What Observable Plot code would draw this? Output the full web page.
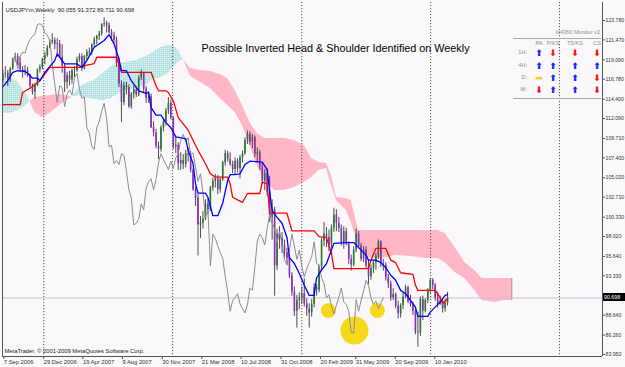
<!DOCTYPE html>
<html><head><meta charset="utf-8">
<script src="https://cdn.jsdelivr.net/npm/d3@7"></script>
<script src="https://cdn.jsdelivr.net/npm/@observablehq/plot@0.6"></script>
<style>
html,body{margin:0;padding:0;background:#fbf8fb;}
#wrap{position:relative;width:625px;height:367px;overflow:hidden;font-family:"Liberation Sans",Arial,sans-serif;}
#wrap svg{display:block}
.mon{position:absolute;font-size:5.6px;color:#8a8a8a;white-space:nowrap;line-height:1}
.arr{position:absolute;font-family:"DejaVu Sans";font-size:9px;font-weight:bold;line-height:1;transform:translate(-50%,-50%)}
.pl{position:absolute;background:#aaa;height:1px}
#px{position:absolute;left:603px;width:22px;height:8px;background:#000;color:#fff;font-size:5.3px;line-height:8px;padding-left:1px;box-sizing:border-box}
</style></head><body><div id="wrap"></div>
<script>
const symbolLabel = "USDJPYm,Weekly";
const lastBar = {open: 90.055, high: 91.372, low: 89.711, close: 90.698};
const chartNote = "Possible Inverted Head & Shoulder Identified on Weekly";
const copyright = "MetaTrader, © 2001-2009 MetaQuotes Software Corp.";
const firstWeek = "2006-09-07";

const open = [116.6,117.4,117.5,116.8,118.0,119.1,119.5,118.7,117.9,117.7,
117.8,117.3,115.9,115.2,116.0,117.9,118.2,119.1,119.6,120.5,
121.2,121.4,120.9,121.0,119.4,118.4,116.4,117.2,116.7,117.8,
117.8,119.1,119.5,118.0,119.5,120.0,119.9,120.9,121.5,121.9,
122.2,123.3,123.4,123.2,122.3,122.0,121.4,118.6,116.2,114.0,
116.0,115.8,113.5,115.0,115.5,114.9,116.9,117.5,115.6,114.5,
114.7,111.0,110.4,108.8,108.4,111.0,111.7,113.0,113.9,112.1,
108.7,108.9,106.7,107.1,106.6,107.9,107.7,105.9,103.6,102.6,
99.4,99.6,100.1,101.9,101.2,103.8,104.6,104.9,103.6,104.8,
106.8,107.9,107.2,106.6,106.0,107.0,106.1,107.4,107.9,109.5,
110.2,109.3,109.8,107.8,108.0,106.3,104.6,105.5,103.2,100.3,
101.2,94.5,98.3,97.8,96.9,96.1,95.4,93.3,91.4,89.1,
90.4,90.7,91.2,90.0,89.4,88.9,89.9,91.9,91.6,94.4,
97.5,98.3,97.9,97.0,99.0,100.6,99.6,99.0,97.3,98.6,
97.1,95.3,94.6,96.4,98.3,96.9,95.3,96.4,94.5,93.2,
94.2,94.9,95.6,97.4,94.8,94.6,93.1,92.4,90.7,91.1,
89.7,88.8,89.8,90.8,91.9,90.2,89.9,89.1,86.6,86.5,
90.5,89.1,90.4,91.5,92.8,92.2,90.7,89.9,90.3,89.4,
90.055];
const high = [117.9,118.3,117.8,118.2,119.3,119.9,119.8,119.4,118.3,118.4,
118.2,117.4,116.2,116.3,118.0,118.5,119.3,120.0,120.8,121.5,
122.2,121.7,121.6,121.4,120.9,118.6,117.6,117.7,118.0,118.3,
119.4,119.8,119.8,119.6,120.3,120.5,121.0,121.8,122.0,122.5,
123.4,124.1,123.7,123.5,122.7,122.4,121.8,119.3,116.6,116.4,
116.4,116.1,115.2,116.0,115.9,117.2,117.9,117.6,115.9,115.3,
115.0,111.7,110.8,109.3,111.2,112.1,113.3,114.6,114.3,112.3,
110.0,109.2,108.0,107.8,108.3,108.6,108.2,106.1,103.9,103.0,
100.4,101.0,102.4,102.5,104.0,105.0,105.4,105.3,105.0,107.0,
108.3,108.2,108.0,107.0,107.4,107.3,107.7,108.2,109.8,110.6,
110.5,110.2,110.0,108.6,108.3,106.8,106.0,106.1,105.2,102.4,
101.5,98.9,99.2,98.5,97.6,96.6,95.8,93.7,92.0,91.0,
91.3,92.0,93.0,90.6,90.0,90.5,92.4,92.3,94.6,97.8,
99.7,99.1,98.8,99.4,101.4,101.2,100.3,99.4,99.2,99.0,
97.4,95.8,96.8,98.9,98.6,97.2,96.8,96.8,95.1,94.6,
95.2,96.0,97.6,97.5,95.3,94.9,93.5,92.7,91.8,91.3,
90.3,90.0,91.3,92.2,92.1,91.0,90.2,89.4,89.0,90.8,
90.9,90.6,91.8,93.0,93.0,92.4,91.4,90.9,90.5,90.5,
91.372];
const low = [116.3,116.9,115.9,116.4,117.8,118.8,118.4,117.6,116.9,117.2,
117.0,115.7,114.9,114.4,115.9,117.5,117.9,118.5,119.4,120.4,
120.9,120.3,119.4,119.3,117.5,115.2,115.6,116.0,116.2,117.0,
117.6,118.8,117.7,117.9,119.0,119.5,119.6,120.5,120.9,121.4,
121.9,123.0,122.3,122.2,121.3,121.0,118.2,115.8,111.6,113.6,
114.9,113.3,113.2,114.4,114.6,114.7,116.6,115.2,113.9,113.9,
110.9,109.9,108.5,107.2,108.1,110.5,111.2,112.6,111.9,108.4,
107.9,105.9,105.9,106.0,106.2,106.9,105.6,103.4,101.6,95.7,
97.8,98.9,99.9,100.6,101.0,103.4,103.8,103.0,103.2,104.6,
106.4,106.9,106.4,105.5,105.3,105.6,104.9,106.8,107.7,109.0,
108.9,108.5,107.4,106.9,105.9,104.2,103.5,102.8,99.7,97.6,
90.9,94.0,96.5,96.0,95.3,94.6,93.0,90.9,88.5,87.1,
89.3,89.9,89.6,88.5,87.1,88.4,89.5,90.9,91.3,94.0,
96.8,96.7,96.2,96.6,98.5,98.6,98.5,96.9,96.5,96.9,
94.7,93.9,94.4,96.1,96.6,95.0,94.9,94.2,92.3,92.8,
93.6,94.0,95.3,94.3,93.9,92.7,91.8,90.3,90.4,89.4,
88.2,88.3,89.3,90.6,90.0,89.6,88.6,86.3,84.8,86.1,
88.0,88.9,90.0,91.2,91.7,90.3,89.5,89.8,88.9,89.0,
89.711];
const close = [117.4,117.5,116.8,118.0,119.1,119.5,118.7,117.9,117.7,117.8,
117.3,115.9,115.2,116.0,117.9,118.2,119.1,119.6,120.5,121.2,
121.4,120.9,121.0,119.4,118.4,116.4,117.2,116.7,117.8,117.8,
119.1,119.5,118.0,119.5,120.0,119.9,120.9,121.5,121.9,122.2,
123.3,123.4,123.2,122.3,122.0,121.4,118.6,116.2,114.0,116.0,
115.8,113.5,115.0,115.5,114.9,116.9,117.5,115.6,114.5,114.7,
111.0,110.4,108.8,108.4,111.0,111.7,113.0,113.9,112.1,108.7,
108.9,106.7,107.1,106.6,107.9,107.7,105.9,103.6,102.6,99.4,
99.6,100.1,101.9,101.2,103.8,104.6,104.9,103.6,104.8,106.8,
107.9,107.2,106.6,106.0,107.0,106.1,107.4,107.9,109.5,110.2,
109.3,109.8,107.8,108.0,106.3,104.6,105.5,103.2,100.3,101.2,
94.5,98.3,97.8,96.9,96.1,95.4,93.3,91.4,89.1,90.4,
90.7,91.2,90.0,89.4,88.9,89.9,91.9,91.6,94.4,97.5,
98.3,97.9,97.0,99.0,100.6,99.6,99.0,97.3,98.6,97.1,
95.3,94.6,96.4,98.3,96.9,95.3,96.4,94.5,93.2,94.2,
94.9,95.6,97.4,94.8,94.6,93.1,92.4,90.7,91.1,89.7,
88.8,89.8,90.8,91.9,90.2,89.9,89.1,86.6,86.5,90.5,
89.1,90.4,91.5,92.8,92.2,90.7,89.9,90.3,89.4,90.05,
90.698];

// Tenkan-sen (blue): bar index / value
const tenkanIdx = [0,2,4,6,9,10,12,14,15,17,21,22,23,25,30,32,34,37,41,43,45,47,48,50,52,55,58,59,60,62,64,66,68,70,74,75,77,78,79,82,83,85,87,89,91,92,94,96,98,100,105,107,108,109,111,113,115,116,118,120,122,124,126,127,129,131,133,134,139,142,145,147,148,151,153,155,157,159,161,163,165,167,168,172,173,175,177,179,180];
const tenkanVal = [115.9,116.6,117.6,117.8,117.7,117.5,116.9,116.9,116.6,117.6,119.0,119.8,119.4,118.6,118.6,118.2,119.0,120.6,121.4,122.1,121.0,119.2,117.8,117.8,116.6,115.4,115.1,115.2,113.4,112.5,112.5,111.6,111.0,109.9,109.7,108.3,106.7,104.3,103.2,103.2,102.7,100.5,100.5,102.0,104.7,105.4,105.4,105.5,106.6,107.0,106.9,106.0,103.4,101.1,100.3,99.6,97.9,95.5,94.8,93.6,92.2,91.0,91.0,93.1,94.0,94.8,96.4,97.2,97.3,97.3,96.4,95.8,95.2,95.2,94.9,94.3,93.4,92.8,91.6,91.2,90.4,89.6,88.5,88.5,89.0,89.6,90.2,91.0,91.1];

// Kijun-sen (red)
const kijunIdx = [0,7,8,11,15,19,31,33,37,38,46,48,60,62,63,66,67,69,71,75,77,79,82,84,86,91,92,93,97,99,104,105,107,108,115,117,126,128,131,133,134,148,149,151,155,157,159,161,166,167,168,175,177,178,180];
const kijunVal = [113.76,113.76,115.2,115.7,116.6,118.2,118.2,118.4,118.65,119.4,119.4,117.6,117.6,116.0,115.4,115.4,115.2,114.2,112.2,110.7,109.5,108.3,106.7,105.5,105.1,105.1,104.3,102.7,102.1,103.15,103.15,104.5,104.3,100.8,100.8,98.7,98.7,98.0,97.9,96.0,94.2,94.2,95.2,96.6,96.6,95.2,94.9,93.7,93.5,92.2,91.6,91.6,90.75,90.0,90.6];

// Kumo (Senkou span A / B), plotted 26 bars ahead
const cloudIdx = [0,3,6,9,11,13,16,19,22,25,28,31,33,37,41,44,47,50,54,58,60,64,67,69,71,73,76,80,84,88,91,94,97,100,103,106,110,114,118,122,125,128,131,133,135,139,141,144,147,153,159,165,171,176,179,183,187,191,194,199,203,206];
const spanA = [116.86,116.86,116.51,115.19,114.12,112.81,112.21,112.69,113.41,114.12,114.60,115.79,116.15,116.62,117.58,118.29,118.53,118.77,119.01,119.49,119.84,120.56,120.80,120.80,120.20,119.13,117.10,116.39,115.67,114.48,113.64,112.81,111.26,108.87,106.49,104.70,103.51,103.51,103.86,104.46,105.06,105.89,106.13,104.10,102.31,101.12,99.69,96.95,95.52,95.40,95.76,95.64,95.40,95.40,94.92,93.73,93.01,91.58,90.39,90.15,90.39,90.39];
const spanB = [112.69,112.69,113.05,113.52,114.12,114.60,114.72,114.84,114.95,114.84,114.60,114.84,114.60,114.36,114.24,114.48,115.07,115.43,115.67,116.03,116.62,116.98,117.46,118.17,118.77,119.13,118.06,117.82,117.70,117.34,116.86,115.43,113.64,111.61,110.30,109.71,109.71,109.71,109.47,108.87,107.32,106.85,106.73,105.30,102.67,102.55,102.31,98.74,98.74,98.74,98.74,98.74,98.74,98.74,98.38,96.71,94.92,93.97,93.01,93.01,93.01,93.01];
const chikouShift = 26;
const chikouFirstBar = 30;

// yellow highlights on the Chikou span (left shoulder, head, right shoulder)
const annotIdx = [131.8, 142.3, 151.6];
const annotVal = [89.2, 86.8, 89.2];
const annotRole = ["shoulder", "head", "shoulder"];

const xTickLabels = ["7 Sep 2006","29 Dec 2006","19 Apr 2007","9 Aug 2007","30 Nov 2007","21 Mar 2008","10 Jul 2008","31 Oct 2008","20 Feb 2009","31 May 2009","20 Sep 2009","10 Jan 2010"];
const yTicks = [123.780,121.470,119.090,116.780,114.400,112.090,109.710,107.400,105.020,102.710,100.330,98.020,95.640,93.330,88.640,86.260,83.950];
const separatorYears = [2007, 2008, 2009, 2010, 2011];

const monTitle = "ic4360 Monitor v2";
const monRows = ["1H:", "4H:", "D:", "W:"];
const monCols = ["PA", "P/KS", "TS/KS", "CS"];
const monSignals = [["up","down","down","down"],["up","up","up","up"],["flat","up","up","down"],["down","up","up","down"]];

// ---------- build ----------
const weekMs = 7 * 864e5;
const t0 = Date.parse(firstWeek + "T00:00:00Z");
const weekDate = i => new Date(t0 + i * weekMs);
const bars = close.map((c, i) => ({date: weekDate(i), open: open[i], high: high[i], low: low[i], close: c}));
const chikou = bars.filter((d, i) => i >= chikouFirstBar).map((d, k) => ({date: weekDate(k + chikouFirstBar - chikouShift), close: d.close}));
const tenkan = tenkanIdx.map((j, k) => ({date: weekDate(j), v: tenkanVal[k]}));
const kijun = kijunIdx.map((j, k) => ({date: weekDate(j), v: kijunVal[k]}));

const BLUE_KUMO = "url(#kumoBlue)", PINK_KUMO = "#ffb7c5";
const segs = [[]];
cloudIdx.forEach((j, k) => {
  const row = {date: weekDate(j), a: spanA[k], b: spanB[k]};
  segs[segs.length - 1].push(row);
  if (spanA[k] === spanB[k] && k > 0 && k < cloudIdx.length - 1) segs.push([row]);
});
const cloudRows = [];
segs.forEach((s, si) => {
  const ref = s.find(r => r.a !== r.b);
  const color = ref && ref.a > ref.b ? BLUE_KUMO : PINK_KUMO;
  s.forEach(r => cloudRows.push({...r, seg: si, color}));
});
const cloudEnd = [cloudRows[cloudRows.length - 1]];
const annots = annotIdx.map((j, k) => ({date: weekDate(j), v: annotVal[k], role: annotRole[k]}));
const xTickDates = xTickLabels.map(s => d3.utcParse("%d %b %Y")(s));
const labelOf = new Map(xTickDates.map((d, i) => [+d, xTickLabels[i]]));
const separators = separatorYears.map(y => new Date(Date.UTC(y, 0, 1)));
const xDomain = [new Date(Date.UTC(2006, 8, 6)), new Date(Date.UTC(2011, 4, 3))];
const yDomain = [83.71, 125.93];
const header = `${symbolLabel}  ${lastBar.open.toFixed(3)} ${lastBar.high.toFixed(3)} ${lastBar.low.toFixed(3)} ${lastBar.close.toFixed(3)}`;

const chart = Plot.plot({
  width: 625, height: 367,
  marginLeft: 2, marginRight: 23, marginTop: 2, marginBottom: 11,
  style: {background: "#fbf8fb", fontFamily: "Liberation Sans, Arial, sans-serif", fontSize: "6px", color: "#333"},
  x: {type: "utc", domain: xDomain},
  y: {domain: yDomain},
  color: {type: "identity"},
  marks: [
    Plot.areaY(cloudRows, {x: "date", y1: "a", y2: "b", z: "seg", fill: "color", curve: "linear"}),
    Plot.ruleX(cloudEnd, {x: "date", y1: "a", y2: "b", stroke: "#8f8f8f", strokeWidth: 1}),
    Plot.ruleY([lastBar.close], {stroke: "#cbc3cb", strokeWidth: 1}),
    Plot.ruleX(separators, {stroke: "#444", strokeWidth: 0.9, strokeDasharray: "1.2,1.8"}),
    Plot.dot(annots, {filter: d => d.role === "shoulder", x: "date", y: "v", r: 7.5, fill: "#f7d91c", stroke: "none"}),
    Plot.dot(annots, {filter: d => d.role === "head", x: "date", y: "v", r: 14, fill: "#f7d91c", stroke: "none"}),
    Plot.ruleX(bars, {x: "date", y1: "low", y2: "high", stroke: "#3a3a3a", strokeWidth: 0.9}),
    Plot.ruleX(bars, {x: "date", y1: "open", y2: "close", stroke: d => d.close >= d.open ? "#23782e" : "#9127bd", strokeWidth: 1.6}),
    Plot.line(chikou, {x: "date", y: "close", stroke: "#8c8c8c", strokeWidth: 1}),
    Plot.line(kijun, {x: "date", y: "v", stroke: "#ff0000", strokeWidth: 1.3}),
    Plot.line(tenkan, {x: "date", y: "v", stroke: "#0000ff", strokeWidth: 1.3}),
    Plot.ruleX([xDomain[0]], {stroke: "#555"}),
    Plot.ruleX([xDomain[1]], {stroke: "#555"}),
    Plot.ruleY([yDomain[0]], {stroke: "#555"}),
    Plot.axisY(yTicks, {anchor: "right", tickSize: 2, tickPadding: 1, tickFormat: d3.format(".3f"), fontSize: 5.2, stroke: "#555"}),
    Plot.axisX(xTickDates, {anchor: "bottom", tickSize: 3, tickPadding: 0.5, tickFormat: d => labelOf.get(+d), textAnchor: "start", dx: 1, fontSize: 5.8, stroke: "#555"}),
    Plot.text([header], {frameAnchor: "top-left", dx: 3, dy: 5, textAnchor: "start", fontSize: 5.9, fill: "#222"}),
    Plot.text([chartNote], {frameAnchor: "top", dx: 33, dy: 42, fontSize: 10.8, fill: "#000"}),
    Plot.text([copyright], {frameAnchor: "bottom-left", dx: 2, dy: -4, textAnchor: "start", fontSize: 5.8, fill: "#222"})
  ]
});

// dotted hatch used by MetaTrader for the bullish Kumo
const NS = "http://www.w3.org/2000/svg";
const defs = document.createElementNS(NS, "defs");
const pat = document.createElementNS(NS, "pattern");
pat.setAttribute("id", "kumoBlue"); pat.setAttribute("width", "2"); pat.setAttribute("height", "2");
pat.setAttribute("patternUnits", "userSpaceOnUse");
[["0","0","2","2","#b6e2e2"],["0","0","1","1","#e2f4f4"]].forEach(([x,y,w,h,f]) => {
  const r = document.createElementNS(NS, "rect");
  r.setAttribute("x", x); r.setAttribute("y", y); r.setAttribute("width", w); r.setAttribute("height", h); r.setAttribute("fill", f);
  pat.appendChild(r);
});
defs.appendChild(pat);
chart.insertBefore(defs, chart.firstChild);

const wrap = document.getElementById("wrap");
wrap.appendChild(chart);

// current price label on the price axis
const py = chart.scale("y").apply(lastBar.close);
const px = document.createElement("div");
px.id = "px"; px.textContent = lastBar.close.toFixed(3);
px.style.top = (py - 4) + "px";
wrap.appendChild(px);

// monitor panel overlay
const colX = [539, 553, 575, 597], rowY = [53, 66, 78, 90];
const glyph = {up: "\u2B06", down: "\u2B07", flat: "\u27A1"};
const glyphColor = {up: "#1a2cf0", down: "#f01818", flat: "#f2cf10"};
function addDiv(cls, text, css) {
  const d = document.createElement("div");
  d.className = cls; d.textContent = text; Object.assign(d.style, css); wrap.appendChild(d); return d;
}
addDiv("pl", "", {left: "513px", top: "38px", width: "88px"});
addDiv("pl", "", {left: "513px", top: "98px", width: "88px"});
addDiv("mon", monTitle, {right: "25px", top: "30px"});
monCols.forEach((c, j) => addDiv("mon", c, {left: colX[j] + "px", top: "41px", transform: "translateX(-50%)"}));
monRows.forEach((r, i) => {
  addDiv("mon", r, {right: (625 - 527) + "px", top: (rowY[i] - 3) + "px"});
  monSignals[i].forEach((s, j) => addDiv("arr", glyph[s], {left: colX[j] + "px", top: rowY[i] + "px", color: glyphColor[s]}));
});
</script></body></html>
